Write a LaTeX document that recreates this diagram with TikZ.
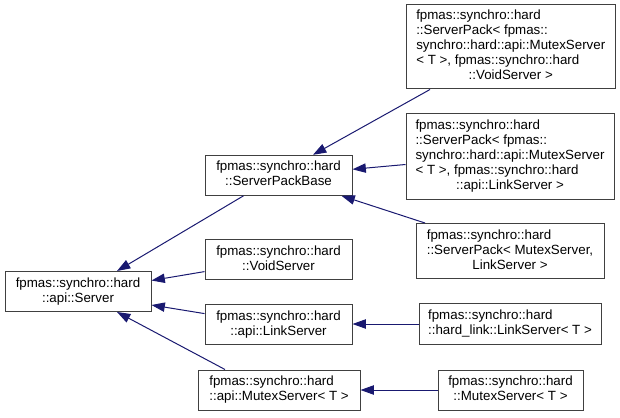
\documentclass[tikz,border=0pt]{standalone}
\usepackage{fontspec}
\setmainfont{Liberation Sans}
\usetikzlibrary{arrows.meta,calc}
\definecolor{edgeblue}{RGB}{25,25,112}
\definecolor{boxline}{RGB}{64,64,64}
\newcommand{\cltext}[2]{\begin{tabular}{@{}l@{}}#1\\\multicolumn{1}{@{}c@{}}{#2}\end{tabular}}
\begin{document}
\begin{tikzpicture}[x=0.75pt,y=-0.75pt,
  cls/.style={draw=boxline, line width=0.75pt, fill=white, inner sep=0pt,
    font=\fontsize{10}{11.25}\selectfont},
  inh/.style={draw=edgeblue, line width=0.75pt,
    -{Triangle[length=10pt,width=7pt,fill=edgeblue]}}]
\useasboundingbox (0,0) rectangle (620,417);

\node[cls, minimum width=109.5pt, minimum height=30pt] (srv) at (78,291.5)
  {\cltext{fpmas::synchro::hard}{::api::Server}};
\node[cls, minimum width=110.25pt, minimum height=30pt] (spb) at (278.5,175.3)
  {\cltext{fpmas::synchro::hard}{::ServerPackBase}};
\node[cls, minimum width=110.25pt, minimum height=30pt] (void) at (278.5,259.6)
  {\cltext{fpmas::synchro::hard}{::VoidServer}};
\node[cls, minimum width=110.25pt, minimum height=30pt] (lnk) at (278.5,324.6)
  {\cltext{fpmas::synchro::hard}{::api::LinkServer}};
\node[cls, minimum width=121.5pt, minimum height=30pt] (amx) at (279,390)
  {\cltext{fpmas::synchro::hard}{::api::MutexServer< T >}};
\node[cls, minimum width=156.4pt, minimum height=63pt] (sp1) at (510.75,47)
  {\cltext{fpmas::synchro::hard\\::ServerPack< fpmas::\\synchro::hard::api::MutexServer\\< T >, fpmas::synchro::hard}{::VoidServer >}};
\node[cls, minimum width=156pt, minimum height=63.75pt] (sp2) at (510,156.5)
  {\cltext{fpmas::synchro::hard\\::ServerPack< fpmas::\\synchro::hard::api::MutexServer\\< T >, fpmas::synchro::hard}{::api::LinkServer >}};
\node[cls, minimum width=141pt, minimum height=41.25pt] (sp3) at (510,251)
  {\cltext{fpmas::synchro::hard\\::ServerPack< MutexServer,}{LinkServer >}};
\node[cls, minimum width=136.5pt, minimum height=30.75pt] (hl) at (510,324)
  {\cltext{fpmas::synchro::hard}{::hard\_link::LinkServer< T >}};
\node[cls, minimum width=108.75pt, minimum height=30pt] (mx) at (510.5,390)
  {\cltext{fpmas::synchro::hard}{::MutexServer< T >}};

\draw[inh] ($(spb.south)+(-35,0)$) -- ($(srv.north)+(39,0)$);
\draw[inh] ($(void.west)+(0,12)$) -- ($(srv.east)+(0,-11)$);
\draw[inh] ($(lnk.west)+(0,-11)$) -- ($(srv.east)+(0,13.5)$);
\draw[inh] ($(amx.north)+(-54,0)$) -- ($(srv.south)+(39,0)$);
\draw[inh] ($(sp1.south)+(-80.75,0)$) -- ($(spb.north)+(34.5,0)$);
\draw[inh] ($(sp2.west)+(0,8)$) -- ($(spb.east)+(0,-6)$);
\draw[inh] ($(sp3.north)+(-85,0)$) -- ($(spb.south)+(63,0)$);
\draw[inh] (hl.west) -- (hl.west -| lnk.east);
\draw[inh] (mx.west) -- (amx.east);
\end{tikzpicture}
\end{document}
